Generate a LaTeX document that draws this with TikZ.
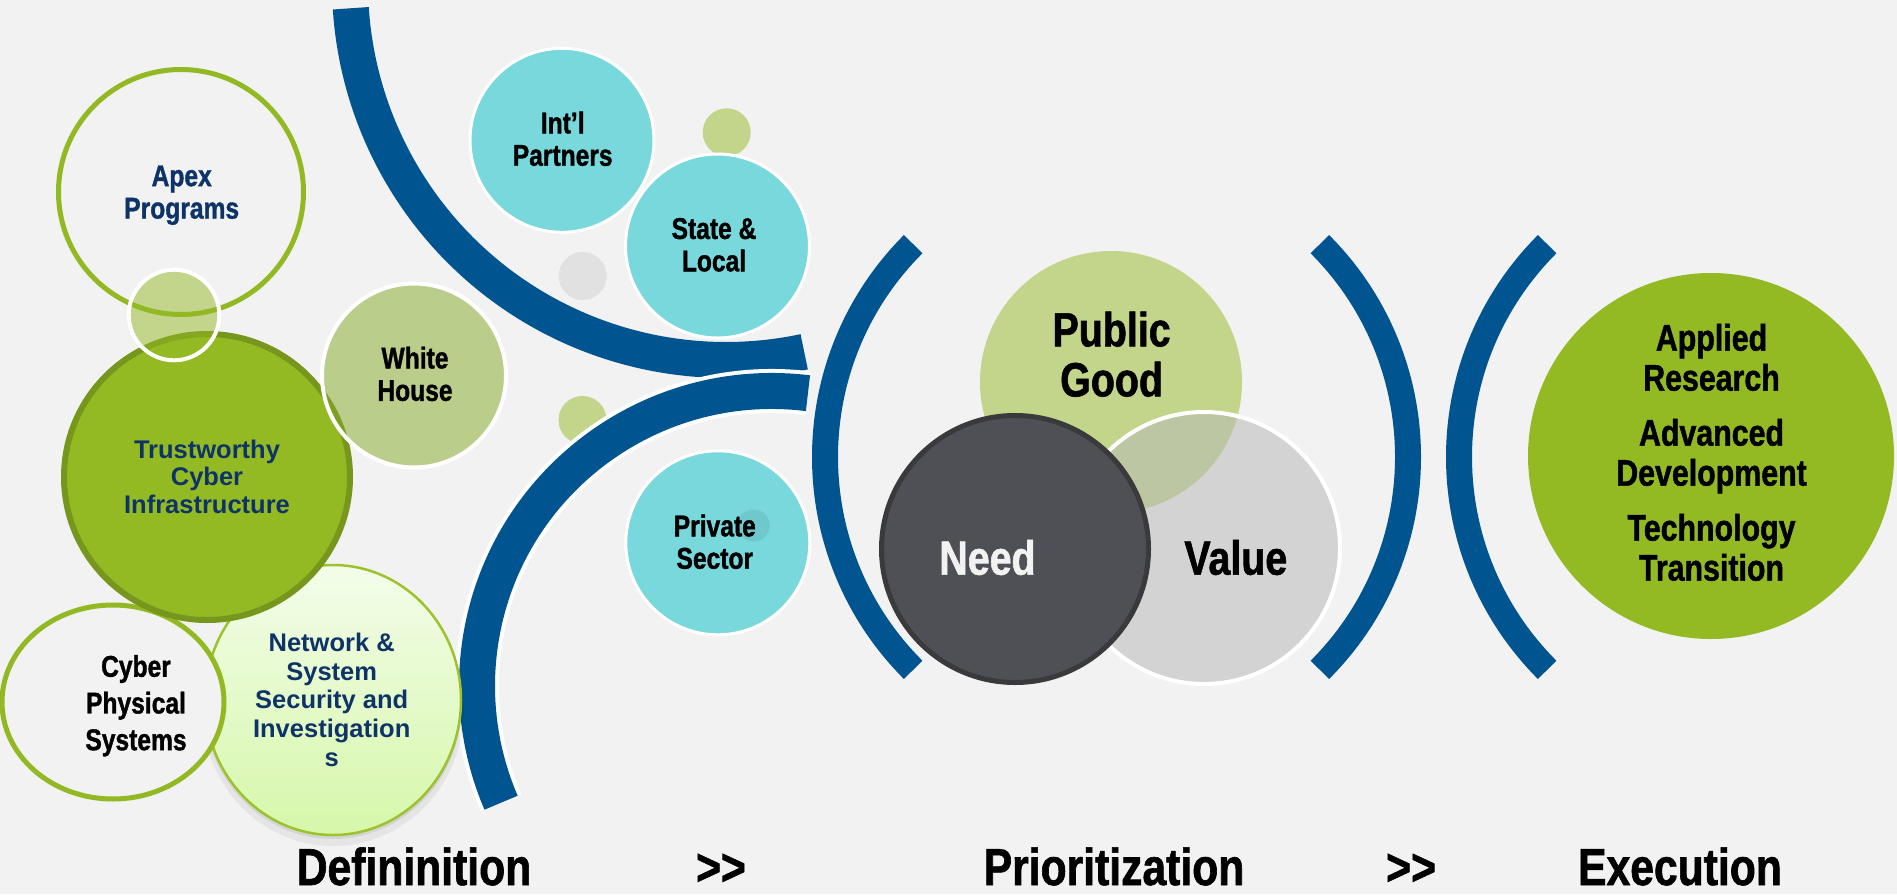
\documentclass[tikz,border=0pt]{standalone}
\usepackage{fontspec}
\setmainfont{Liberation Sans}
\newfontfamily\condfont[FakeStretch=0.82,FakeBold=1.2]{Liberation Sans}
\usepackage{tikz}

\definecolor{bg}{HTML}{F2F2F2}
\definecolor{arcblue}{HTML}{00548F}
\definecolor{leaf}{HTML}{93B923}
\definecolor{leafdark}{HTML}{77961D}
\definecolor{leafline}{HTML}{92B924}
\definecolor{aqua}{HTML}{78D8DB}
\definecolor{navy}{HTML}{0E3467}
\definecolor{needgray}{HTML}{4E5056}
\definecolor{needline}{HTML}{3A3A3C}
\definecolor{housegreen}{RGB}{134,170,38}
\definecolor{valgray}{RGB}{185,185,185}
\definecolor{dotgray}{HTML}{E1E1E1}
\definecolor{nettop}{HTML}{F3FDEA}
\definecolor{netbot}{HTML}{D6F7AA}
\definecolor{netline}{HTML}{9CC22C}

\begin{document}
\begin{tikzpicture}[x=1pt,y=-1pt,
  band/.style={draw=arcblue,line width=36pt},
  bracket/.style={draw=arcblue,line width=26pt},
  bubble/.style={fill=aqua,draw=white,line width=3pt},
  soft/.style={fill=leaf,fill opacity=0.5},
  lbl/.style={align=center,font=\condfont\bfseries\fontsize{30}{32.4}\selectfont},
  body/.style={align=center,text=navy,font=\bfseries\fontsize{25.5}{27.5}\selectfont},
  big/.style={align=center,font=\condfont\bfseries\fontsize{48}{50}\selectfont},
  title/.style={anchor=base,font=\condfont\bfseries\fontsize{52}{52}\selectfont}]
\useasboundingbox (0,0) rectangle (1897,894);
\fill[bg] (0,0) rectangle (1897,894);

\draw[band] (726,-16) ++(176.3:376) arc[start angle=176.3,end angle=78,radius=376];
\fill[soft] (582.5,420) circle[radius=24];
\draw[white,line width=44pt] (772,686) ++(277:295) arc[start angle=277,end angle=156.7,radius=295];
\draw[band] (772,686) ++(277:295) arc[start angle=277,end angle=156.7,radius=295];

\fill[dotgray] (582.7,276) circle[radius=24];
\fill[soft] (726.7,132.3) circle[radius=24];
\filldraw[bubble] (562,140.3) circle[radius=92];
\filldraw[bubble] (717.5,246) circle[radius=92];
\filldraw[bubble] (717.8,542.8) circle[radius=92];
\fill[black,opacity=0.07] (753.7,525.5) circle[radius=16];

\fill[black,opacity=0.05] (333,709) circle[x radius=131,y radius=137];
\fill[black,opacity=0.07] (333,704) circle[x radius=129,y radius=135];
\shadedraw[top color=nettop,bottom color=netbot,draw=netline,line width=2.5pt] (333,700) circle[x radius=128,y radius=135];
\filldraw[fill=bg,draw=leafline,line width=5pt] (113,702) circle[x radius=111,y radius=97];
\filldraw[fill=leaf,draw=leafdark,line width=6pt] (207,477) circle[radius=143];
\draw[leafline,line width=5pt] (181,192) circle[radius=122.5];
\filldraw[fill=housegreen,fill opacity=0.5,draw=white,line width=4pt] (414,375.5) circle[radius=92];
\filldraw[fill=leaf,fill opacity=0.5,draw=white,line width=4pt] (174,315) circle[radius=45.3];

\draw[bracket] (1126,457) ++(225:301) arc[start angle=225,end angle=135,radius=301];
\draw[bracket] (1107,457) ++(-45:301) arc[start angle=-45,end angle=45,radius=301];
\draw[bracket] (1760,457) ++(225:301) arc[start angle=225,end angle=135,radius=301];

\fill[soft] (1111,382) circle[radius=131];
\filldraw[fill=valgray,fill opacity=0.53,draw=white,line width=4pt] (1204,548) circle[radius=136];
\filldraw[fill=needgray,draw=needline,line width=5pt] (1015,549) circle[radius=133.5];
\fill[leaf] (1711,456) circle[radius=183];

\node[lbl,text=navy] (apex) at (181.7,195.2) {Apex\\Programs};
\node[body] (trust) at (207,476.7) {Trustworthy\\Cyber\\Infrastructure};
\node[body,font=\bfseries\fontsize{25.5}{28.6}\selectfont] (netsec) at (331.7,699.7) {Network \&\\System\\Security and\\Investigation\\s};
\node[lbl,font=\condfont\bfseries\fontsize{30}{36.7}\selectfont] (cps) at (136,705.7) {Cyber\\Physical\\Systems};
\node[lbl] (intl) at (562.7,138.8) {Int’l\\Partners};
\node[lbl] (state) at (714,244.8) {State \&\\Local};
\node[lbl] (house) at (415,373.9) {White\\House};
\node[lbl] (private) at (714.8,541.8) {Private\\Sector};

\node[big] (public) at (1111.6,354.2) {Public\\Good};
\node[big,text=bg] (need) at (987.5,557.5) {Need};
\node[big] (value) at (1235.8,557.5) {Value};
\node[align=center,font=\condfont\bfseries\fontsize{37}{40}\selectfont] (exec) at (1711.5,452.4)
  {Applied\\Research\\[15pt]Advanced\\Development\\[15pt]Technology\\Transition};

\node[title] (defn) at (414,885) {Defininition};
\node[title] (step1) at (721,885) {>{}>};
\node[title] (prio) at (1114,885) {Prioritization};
\node[title] (step2) at (1411,885) {>{}>};
\node[title] (execn) at (1680,885) {Execution};
\end{tikzpicture}
\end{document}
